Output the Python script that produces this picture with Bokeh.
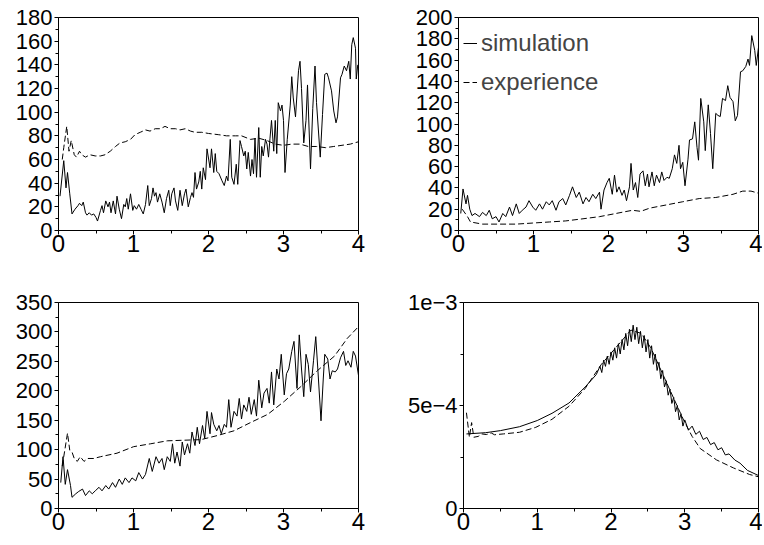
from bokeh.plotting import figure
from bokeh.layouts import column, row
from bokeh.models import Range1d, FixedTicker, Legend, LegendItem
from bokeh.embed import file_html
from bokeh.resources import INLINE

# ---------------- data ----------------
# Top-left panel
tl_sim_x = [0.02, 0.07, 0.10, 0.12, 0.15, 0.18, 0.22, 0.26, 0.28, 0.31,
            0.33, 0.36, 0.38, 0.41, 0.44, 0.47, 0.50, 0.52, 0.56, 0.58,
            0.60, 0.63, 0.66, 0.68, 0.70, 0.73, 0.76, 0.78, 0.81, 0.84,
            0.87, 0.89, 0.91, 0.93, 0.96, 0.99, 1.01, 1.04, 1.07, 1.10,
            1.13, 1.16, 1.19, 1.21, 1.24, 1.26, 1.28, 1.30, 1.32, 1.35,
            1.38, 1.41, 1.44, 1.47, 1.49, 1.51, 1.54, 1.56, 1.59, 1.62,
            1.65, 1.68, 1.70, 1.73, 1.76, 1.78, 1.80, 1.82, 1.84, 1.87,
            1.89, 1.91, 1.93, 1.96, 1.98,
            2.02, 2.04, 2.07, 2.09, 2.11, 2.14, 2.18, 2.21, 2.24, 2.26,
            2.29, 2.31, 2.34, 2.37, 2.39, 2.42, 2.44, 2.47, 2.49, 2.51,
            2.53, 2.56, 2.58, 2.60, 2.62, 2.64, 2.67, 2.69, 2.71, 2.73,
            2.76, 2.78, 2.80, 2.82, 2.84, 2.87, 2.89, 2.91, 2.93, 2.96,
            2.98, 3.00, 3.02, 3.05, 3.09, 3.11, 3.13, 3.16, 3.20, 3.22,
            3.24, 3.27, 3.30, 3.32, 3.36, 3.39, 3.42, 3.44, 3.49, 3.52,
            3.55, 3.58, 3.60, 3.64, 3.67, 3.70, 3.72, 3.76, 3.78, 3.81,
            3.84, 3.87, 3.89, 3.91, 3.93, 3.96, 3.97, 3.99]
tl_sim_y = [29, 59, 36, 49, 31, 14, 18, 21, 23, 21,
            24, 15, 13, 15, 13, 14, 11, 8, 17, 21,
            15, 25, 20, 24, 15, 25, 14, 29, 18, 10,
            22, 20, 27, 18, 31, 17, 21, 18, 22, 18,
            14, 22, 38, 21, 27, 36, 29, 32, 24, 31,
            24, 15, 27, 34, 21, 31, 36, 25, 17, 34,
            21, 31, 35, 20, 28, 32, 28, 49, 35, 41,
            50, 35, 53, 43, 69,
            53, 69, 49, 65, 50, 48, 42, 38, 46, 42,
            77, 45, 39, 56, 39, 76, 71, 63, 67, 52,
            66, 46, 60, 48, 78, 45, 87, 45, 71, 63,
            77, 73, 62, 78, 93, 67, 93, 65, 108, 101,
            106, 93, 49, 77, 106, 130, 112, 96, 135, 143,
            120, 74, 93, 123, 52, 103, 139, 108, 62, 98,
            132, 133, 129, 118, 101, 91, 96, 129, 132, 139,
            135, 143, 128, 157, 163, 154, 128, 140]
tl_exp_x = [0.05, 0.07, 0.11, 0.14, 0.17, 0.21, 0.24, 0.28, 0.31, 0.36,
            0.42, 0.49, 0.56, 0.62, 0.69, 0.76, 0.82, 0.89, 0.96, 1.02,
            1.09, 1.16, 1.22, 1.29, 1.36, 1.42, 1.49, 1.56, 1.62, 1.69,
            1.76, 1.82, 1.91, 2.00, 2.13, 2.24, 2.36, 2.44, 2.56, 2.67,
            2.78, 2.89, 3.00, 3.11, 3.22, 3.33, 3.44, 3.56, 3.67, 3.78,
            3.89, 4.00]
tl_exp_y = [60, 70, 88, 67, 76, 64, 62, 67, 64, 62,
            64, 63, 63, 64, 67, 71, 74, 75, 77, 81,
            83, 85, 84, 86, 86, 88, 86, 86, 85, 86,
            84, 83, 83, 82, 81, 80, 80, 80, 77, 78,
            76, 73, 72, 73, 73, 71, 71, 70, 71, 72,
            73, 75]

# Top-right panel
tr_sim_x = [0.03, 0.06, 0.10, 0.12, 0.15, 0.18, 0.22, 0.28, 0.32, 0.37,
            0.41, 0.45, 0.50, 0.54, 0.59, 0.63, 0.68, 0.72, 0.77, 0.81,
            0.85, 0.90, 0.94, 0.99, 1.03, 1.08, 1.12, 1.17, 1.21, 1.25,
            1.30, 1.34, 1.39, 1.43, 1.48, 1.52, 1.57, 1.61, 1.66, 1.70,
            1.74, 1.79, 1.83, 1.88, 1.90, 1.94, 1.98, 2.01, 2.05, 2.08,
            2.11, 2.14, 2.18, 2.21, 2.24, 2.28, 2.30, 2.33, 2.36, 2.39,
            2.42, 2.46, 2.49, 2.52, 2.54, 2.58, 2.61, 2.64, 2.68, 2.71,
            2.74, 2.78, 2.81, 2.85, 2.88, 2.91, 2.94, 2.96, 2.99, 3.02,
            3.06, 3.08, 3.12, 3.15, 3.18, 3.20, 3.23, 3.27, 3.29, 3.33,
            3.36, 3.39, 3.43, 3.46, 3.49, 3.52, 3.56, 3.59, 3.62, 3.66,
            3.69, 3.72, 3.76, 3.79, 3.83, 3.86, 3.88, 3.91, 3.95, 3.97,
            4.00]
tr_sim_y = [16, 39, 25, 33, 20, 14, 16, 13, 17, 14,
            19, 11, 13, 8, 16, 13, 22, 14, 25, 16,
            19, 22, 28, 22, 19, 25, 20, 27, 24, 28,
            19, 27, 30, 24, 33, 41, 31, 36, 25, 31,
            27, 34, 30, 36, 20, 38, 45, 49, 34, 52,
            36, 41, 33, 38, 28, 41, 63, 38, 45, 31,
            53, 56, 42, 53, 41, 55, 42, 52, 45, 55,
            47, 50, 49, 58, 71, 63, 80, 58, 64, 42,
            67, 85, 86, 102, 78, 66, 124, 102, 75, 118,
            91, 58, 110, 108, 107, 124, 122, 136, 125, 121,
            103, 108, 149, 150, 154, 161, 155, 183, 169, 155,
            172]
tr_exp_x = [0.05, 0.12, 0.16, 0.32, 0.54, 0.77, 0.99, 1.21, 1.43, 1.66,
            1.88, 2.10, 2.32, 2.43, 2.55, 2.77, 2.99, 3.21, 3.43, 3.66,
            3.79, 3.90, 4.00]
tr_exp_y = [20, 13, 8, 6, 6, 6, 7, 8, 9, 11,
            13, 16, 19, 18, 21, 24, 27, 30, 31, 34,
            37, 37, 35]

# Bottom-left panel
bl_sim_x = [0.03, 0.06, 0.09, 0.12, 0.16, 0.18, 0.23, 0.27, 0.32, 0.36,
            0.41, 0.45, 0.49, 0.54, 0.58, 0.63, 0.67, 0.72, 0.76, 0.81,
            0.85, 0.89, 0.94, 0.98, 1.03, 1.07, 1.12, 1.16, 1.21, 1.25,
            1.30, 1.34, 1.38, 1.41, 1.45, 1.49, 1.52, 1.55, 1.58, 1.62,
            1.65, 1.68, 1.72, 1.75, 1.78, 1.82, 1.85, 1.88, 1.92, 1.95,
            1.98, 2.02, 2.04, 2.07, 2.11, 2.14, 2.17, 2.21, 2.24, 2.27,
            2.30, 2.34, 2.38, 2.41, 2.44, 2.47, 2.51, 2.54, 2.57, 2.61,
            2.64, 2.67, 2.71, 2.74, 2.78, 2.81, 2.84, 2.87, 2.91, 2.94,
            2.97, 3.01, 3.04, 3.07, 3.11, 3.14, 3.18, 3.21, 3.24, 3.27,
            3.30, 3.33, 3.36, 3.40, 3.43, 3.46, 3.50, 3.53, 3.55, 3.59,
            3.62, 3.65, 3.69, 3.72, 3.76, 3.80, 3.83, 3.86, 3.90, 3.93,
            3.96, 4.00]
bl_sim_y = [44, 88, 41, 66, 39, 19, 25, 29, 33, 22,
            30, 25, 30, 36, 30, 39, 33, 44, 36, 50,
            41, 52, 44, 52, 47, 61, 50, 58, 85, 63,
            88, 77, 85, 66, 88, 80, 110, 77, 96, 72,
            113, 91, 110, 94, 130, 107, 138, 110, 141, 119,
            165, 127, 163, 143, 132, 141, 127, 143, 138, 185,
            138, 165, 157, 187, 152, 176, 165, 189, 160, 185,
            157, 218, 171, 196, 204, 179, 232, 176, 237, 220,
            262, 193, 229, 237, 267, 284, 204, 295, 237, 190,
            262, 245, 198, 251, 292, 232, 149, 220, 262, 254,
            220, 234, 232, 237, 256, 267, 243, 251, 240, 267,
            259, 226]
bl_exp_x = [0.05, 0.12, 0.15, 0.18, 0.21, 0.25, 0.29, 0.34, 0.39, 0.47,
            0.56, 0.78, 1.00, 1.23, 1.45, 1.67, 1.90, 2.12, 2.34, 2.56,
            2.79, 3.01, 3.23, 3.45, 3.68, 3.85, 4.00]
bl_exp_y = [72, 128, 99, 96, 85, 80, 88, 80, 85, 85,
            88, 94, 105, 110, 115, 116, 117, 124, 132, 146,
            160, 182, 207, 234, 259, 289, 309]

# Bottom-right panel (values in units of 1e-4)
br_sim_x = [0.04, 0.30, 0.50, 0.76, 1.00, 1.20, 1.43, 1.65, 1.80, 1.85,
            1.875, 1.90, 1.925, 1.95, 1.975, 2.00, 2.025, 2.05, 2.075, 2.10,
            2.125, 2.15, 2.175, 2.20, 2.225, 2.25, 2.275, 2.30, 2.325, 2.35,
            2.375, 2.40, 2.425, 2.45, 2.475, 2.50, 2.525, 2.55, 2.575, 2.60,
            2.625, 2.65, 2.675, 2.70, 2.725, 2.75, 2.775, 2.80, 2.825, 2.85,
            2.875, 2.90, 2.925, 2.95, 2.975, 3.00, 3.05, 3.10, 3.15, 3.20,
            3.25, 3.30, 3.35, 3.40, 3.45, 3.50, 3.55, 3.60, 3.68, 3.75,
            3.85, 4.00]
br_sim_e4 = [3.62, 3.68, 3.78, 3.97, 4.27, 4.62, 5.12, 5.90, 6.50, 6.90,
             6.60, 7.20, 6.90, 7.40, 7.00, 7.60, 7.20, 7.80, 7.30, 8.00,
             7.50, 8.20, 7.70, 8.50, 7.90, 8.70, 8.10, 8.90, 8.20, 8.80,
             8.00, 8.60, 7.80, 8.40, 7.60, 8.20, 7.30, 7.90, 7.00, 7.50,
             6.70, 7.10, 6.30, 6.70, 5.90, 6.20, 5.50, 5.80, 5.10, 5.40,
             4.70, 5.00, 4.30, 4.60, 4.00, 4.30, 3.80, 4.00, 3.60, 3.75,
             3.35, 3.45, 3.10, 3.20, 2.85, 2.95, 2.60, 2.65, 2.35, 2.20,
             1.85, 1.60]
br_exp_x = [0.04, 0.08, 0.11, 0.14, 0.20, 0.25, 0.31, 0.38, 0.42, 0.54,
            0.76, 0.98, 1.20, 1.43, 1.65, 1.87, 2.10, 2.27, 2.41, 2.54,
            2.76, 2.99, 3.10, 3.21, 3.43, 3.66, 3.88, 4.00]
br_exp_e4 = [4.65, 3.46, 4.17, 3.46, 3.50, 3.62, 3.59, 3.66, 3.58, 3.62,
             3.70, 3.94, 4.33, 4.96, 5.83, 7.00, 7.95, 8.66, 8.50, 7.80,
             6.06, 4.25, 3.50, 2.91, 2.36, 1.97, 1.65, 1.54]
br_sim_y = [v * 1e-4 for v in br_sim_e4]
br_exp_y = [v * 1e-4 for v in br_exp_e4]

x_ticks = [0, 1, 2, 3, 4]
x_minor = [0.5, 1.5, 2.5, 3.5]
tl_yticks = [0, 20, 40, 60, 80, 100, 120, 140, 160, 180]
tl_yminor = [10, 30, 50, 70, 90, 110, 130, 150, 170]
tr_yticks = [0, 20, 40, 60, 80, 100, 120, 140, 160, 180, 200]
tr_yminor = [10, 30, 50, 70, 90, 110, 130, 150, 170, 190]
bl_yticks = [0, 50, 100, 150, 200, 250, 300, 350]
bl_yminor = [25, 75, 125, 175, 225, 275, 325]
br_yticks = [0, 0.0005, 0.001]
br_yminor = [0.00025, 0.00075]
br_ylabels = {0: "0", 0.0005: "5e\u22124", 0.001: "1e\u22123"}

FONT = "Liberation Sans"


def make(width, height, ymax, yticks, yminor, bl, br, bt, bb):
    p = figure(width=width, height=height, output_backend="svg",
               toolbar_location=None, x_range=Range1d(0, 4),
               y_range=Range1d(0, ymax),
               min_border_left=bl, min_border_right=br,
               min_border_top=bt, min_border_bottom=bb)
    p.xgrid.visible = False
    p.ygrid.visible = False
    p.outline_line_color = "black"
    p.outline_line_width = 1
    p.background_fill_color = "white"
    p.border_fill_color = "white"
    p.xaxis.ticker = FixedTicker(ticks=x_ticks, minor_ticks=x_minor)
    p.yaxis.ticker = FixedTicker(ticks=yticks, minor_ticks=yminor)
    for ax in (p.xaxis, p.yaxis):
        ax.axis_line_color = "black"
        ax.major_tick_in = 0
        ax.major_tick_out = 4
        ax.minor_tick_in = 0
        ax.minor_tick_out = 3
        ax.major_tick_line_color = "black"
        ax.minor_tick_line_color = "black"
        ax.major_label_text_font = FONT
        ax.major_label_text_color = "black"
    p.xaxis.major_label_text_font_size = "24px"
    p.xaxis.major_label_standoff = 0
    p.yaxis.major_label_text_font_size = "22px"
    p.yaxis.major_label_standoff = 2
    return p


p1 = make(404, 280, 180, tl_yticks, tl_yminor, 58, 46, 16, 50)
p1.line(tl_sim_x, tl_sim_y, line_color="black", line_width=1)
p1.line(tl_exp_x, tl_exp_y, line_color="black", line_width=1, line_dash="6 3")

p2 = make(358, 280, 200, tr_yticks, tr_yminor, 54, 4, 17, 50)
r_sim = p2.line(tr_sim_x, tr_sim_y, line_color="black", line_width=1)
r_exp = p2.line(tr_exp_x, tr_exp_y, line_color="black", line_width=1, line_dash="6 3")
legend = Legend(items=[LegendItem(label="simulation", renderers=[r_sim]),
                       LegendItem(label="experience", renderers=[r_exp])],
                location=(5, 134), padding=0, margin=0, spacing=11,
                glyph_width=14, glyph_height=20, label_standoff=4,
                label_text_font=FONT, label_text_font_size="24px",
                border_line_alpha=0, background_fill_alpha=0)
p2.add_layout(legend)

p3 = make(404, 265, 350, bl_yticks, bl_yminor, 58, 46, 20, 37)
p3.line(bl_sim_x, bl_sim_y, line_color="black", line_width=1)
p3.line(bl_exp_x, bl_exp_y, line_color="black", line_width=1, line_dash="6 3")

p4 = make(358, 265, 0.001, br_yticks, br_yminor, 55, 4, 22, 37)
p4.yaxis.major_label_overrides = br_ylabels
p4.line(br_sim_x, br_sim_y, line_color="black", line_width=1)
p4.line(br_exp_x, br_exp_y, line_color="black", line_width=1, line_dash="6 3")

layout = column(row(p1, p2), row(p3, p4))
open("out.html", "w").write(file_html(layout, INLINE))
